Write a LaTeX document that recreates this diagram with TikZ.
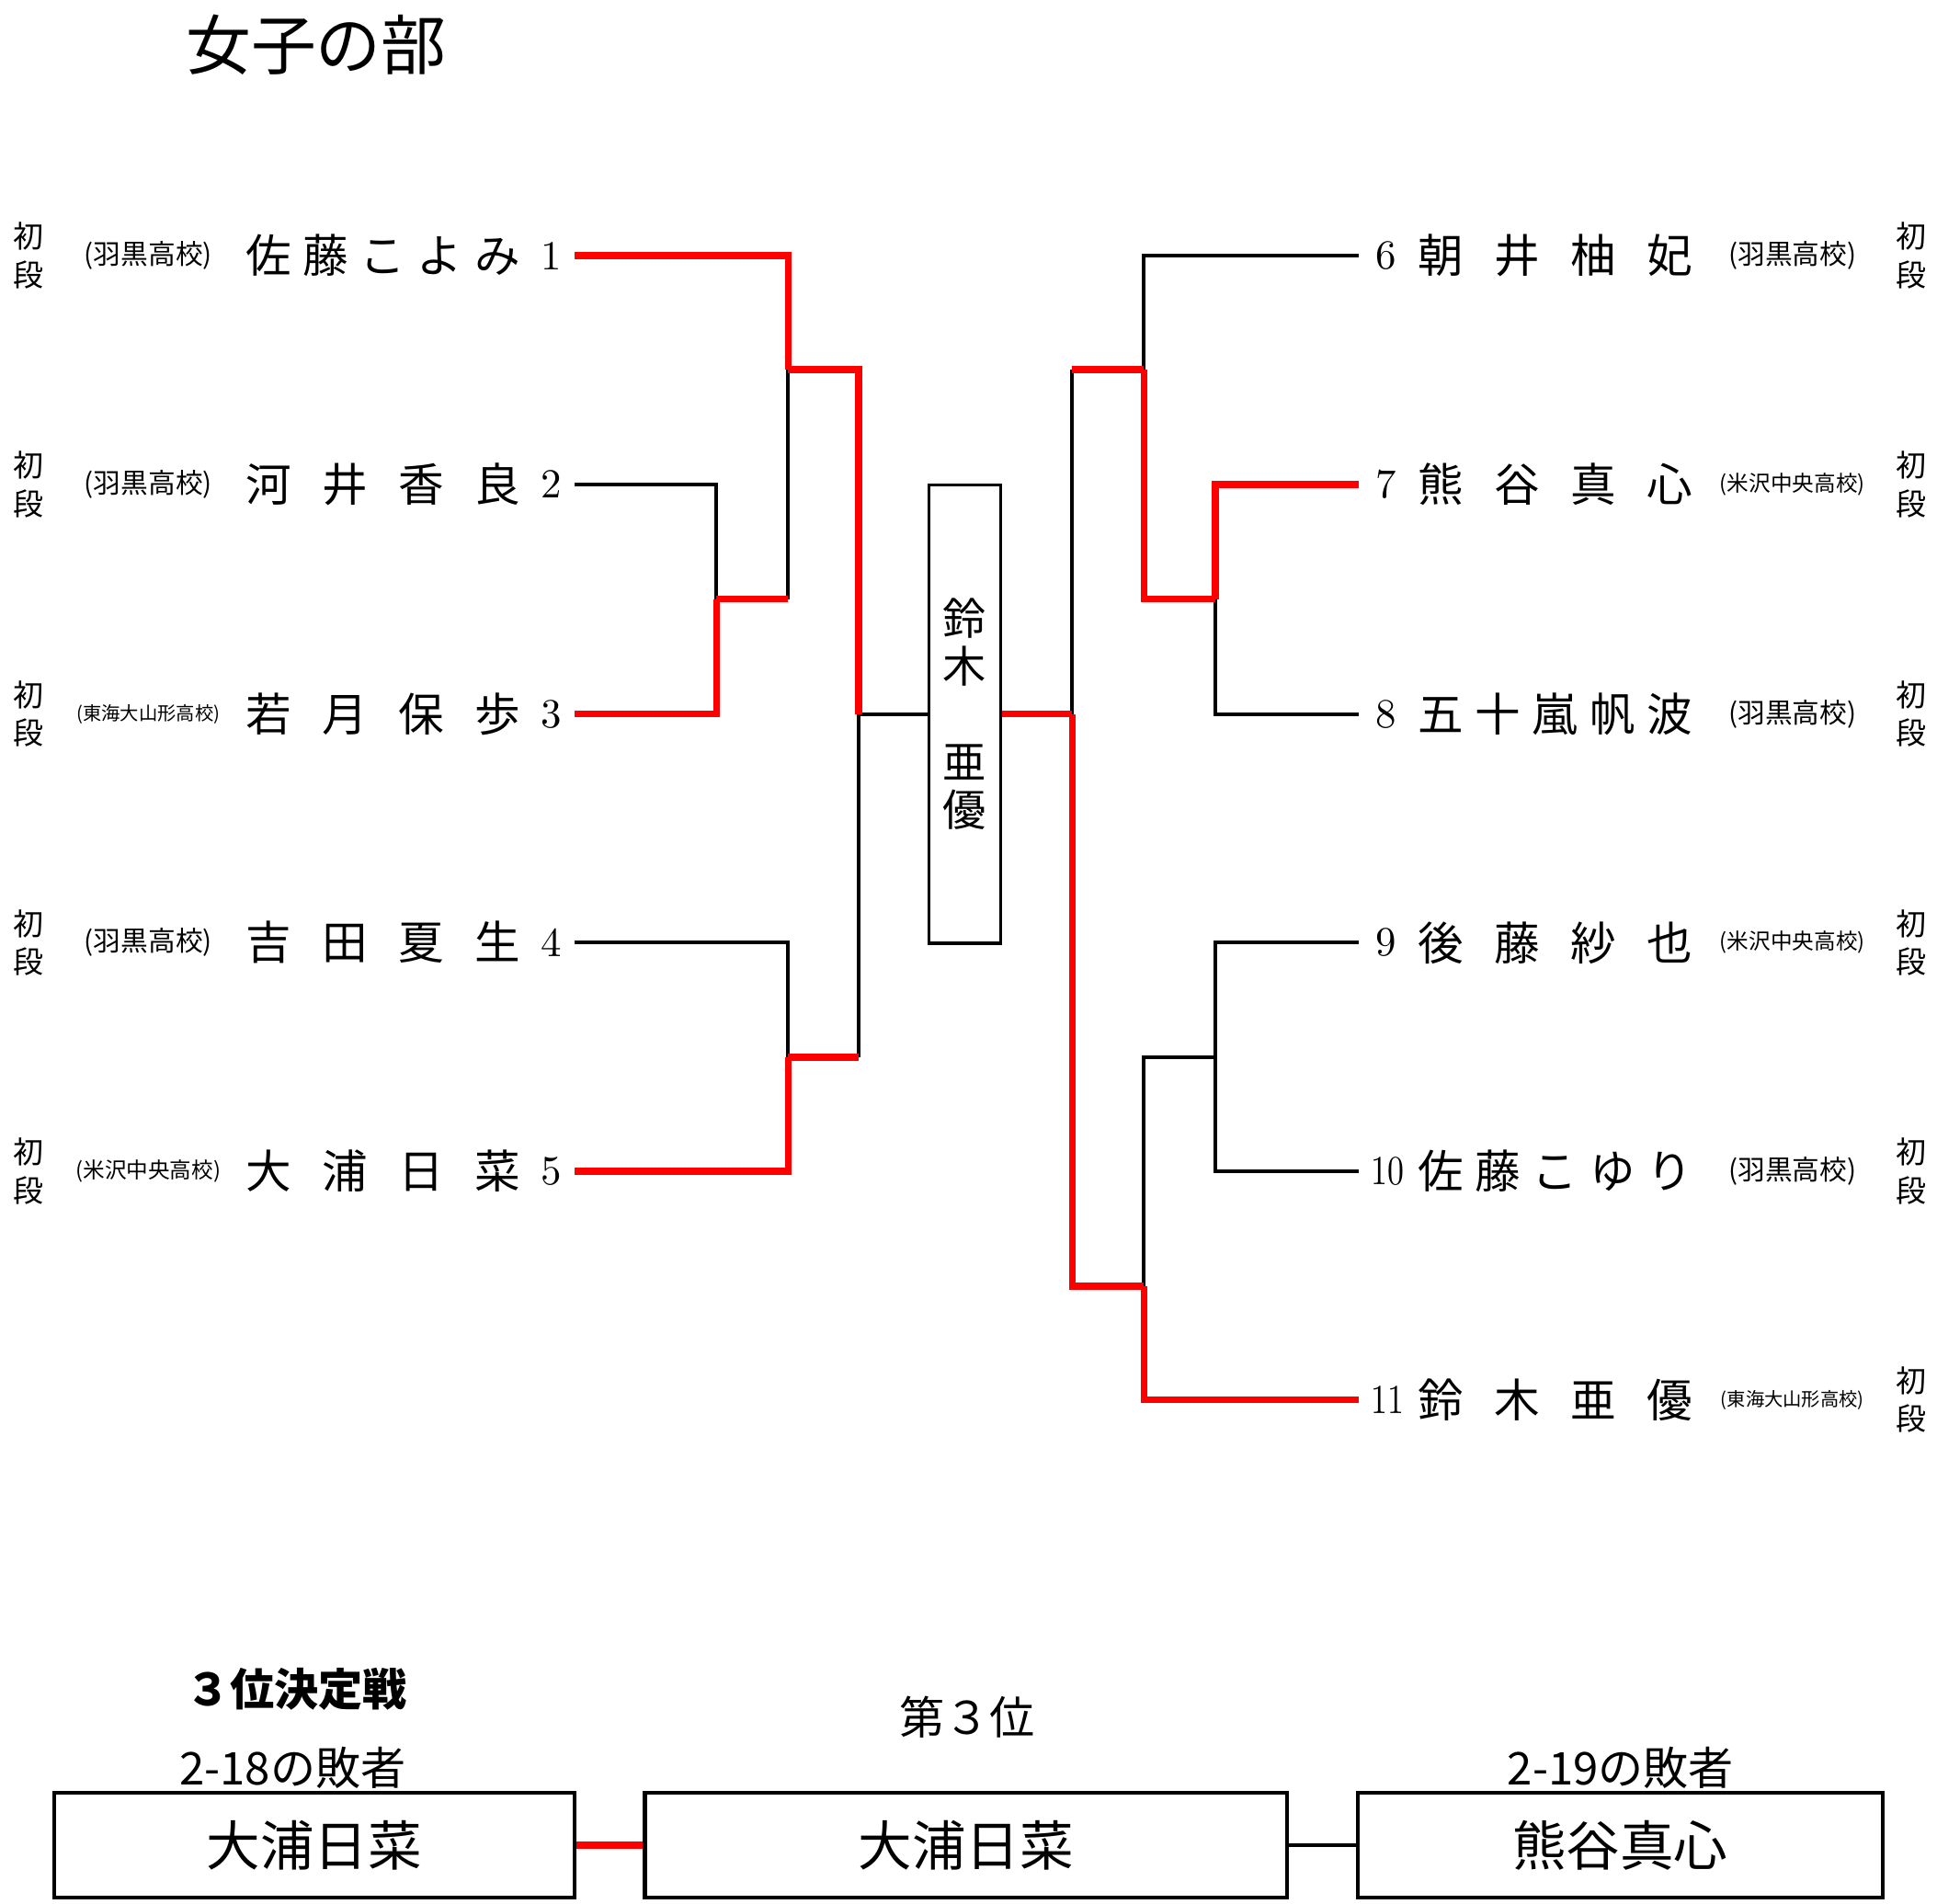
\documentclass[tikz,border=0pt]{standalone}
\usepackage{fontspec}
\newfontfamily\jp{Noto Sans CJK JP}
\usetikzlibrary{positioning}
\newcommand{\spreadname}[1]{\makebox[22.2mm][s]{#1}}

\begin{document}
\begin{tikzpicture}[x=0.1mm,y=-0.1mm,
      win/.style={draw=red,line width=1.6pt},
      lose/.style={draw=black,line width=0.8pt},
      pname/.style={inner sep=0pt,font=\jp\fontsize{10.5}{12}\selectfont},
      school/.style={inner sep=0pt,font=\jp\fontsize{6.3}{7}\selectfont},
      smallschool/.style={inner sep=0pt,font=\jp\fontsize{5}{6}\selectfont},
      tinyschool/.style={inner sep=0pt,font=\jp\fontsize{4.3}{5}\selectfont},
      dan/.style={inner sep=0pt,align=center,font=\jp\fontsize{7}{8.8}\selectfont},
      num/.style={inner sep=0pt,font=\fontsize{9.5}{11}\selectfont},
      label/.style={inner sep=0pt,font=\jp\fontsize{10.4}{12}\selectfont},
      resbox/.style={draw,line width=0.9pt,minimum height=8.5mm,inner sep=0pt,
        font=\jp\fontsize{12.4}{14}\selectfont}
      ]
      \useasboundingbox (0,0) rectangle (1568,1540.5);

      \node[inner sep=0pt,font=\jp\fontsize{15}{18}\selectfont] (title) at (256,36) {女子の部};

      % dan grades
      \foreach \y [count=\i] in {207,392,578,763,948}
        \node[dan] (dl\i) at (23,\y) {初\\段};
      \foreach \y [count=\i] in {207,392,578,763,948,1133}
        \node[dan] (dr\i) at (1547,\y) {初\\段};

      % left side
      \node[school] (sc1) at (120,207) {(羽黒高校)};
      \node[school] (sc2) at (120,392) {(羽黒高校)};
      \node[tinyschool] (sc3) at (120,578) {(東海大山形高校)};
      \node[school] (sc4) at (120,763) {(羽黒高校)};
      \node[smallschool] (sc5) at (120,948) {(米沢中央高校)};

      \node[pname] (nm1) at (310,207) {\spreadname{佐\hfill 藤\hfill こ\hfill よ\hfill み}};
      \node[pname] (nm2) at (310,392) {\spreadname{河\hfill 井\hfill 香\hfill 良}};
      \node[pname] (nm3) at (310,578) {\spreadname{若\hfill 月\hfill 保\hfill 歩}};
      \node[pname] (nm4) at (310,763) {\spreadname{吉\hfill 田\hfill 夏\hfill 生}};
      \node[pname] (nm5) at (310,948) {\spreadname{大\hfill 浦\hfill 日\hfill 菜}};

      \node[num] (n1) at (446,207) {1};
      \node[num] (n2) at (446,392) {2};
      \node[num] (n3) at (446,578) {3};
      \node[num] (n4) at (446,763) {4};
      \node[num] (n5) at (446,948) {5};

      % right side
      \node[num] (n6) at (1122,207) {6};
      \node[num] (n7) at (1122,392) {7};
      \node[num] (n8) at (1122,578) {8};
      \node[num] (n9) at (1122,763) {9};
      \node[num] (n10) at (1123,948) {\scalebox{0.8}[1]{10}};
      \node[num] (n11) at (1123,1133) {\scalebox{0.8}[1]{11}};

      \node[pname] (nm6) at (1259,207) {\spreadname{朝\hfill 井\hfill 柚\hfill 妃}};
      \node[pname] (nm7) at (1259,392) {\spreadname{熊\hfill 谷\hfill 真\hfill 心}};
      \node[pname] (nm8) at (1259,578) {\spreadname{五\hfill 十\hfill 嵐\hfill 帆\hfill 波}};
      \node[pname] (nm9) at (1259,763) {\spreadname{後\hfill 藤\hfill 紗\hfill 也}};
      \node[pname] (nm10) at (1259,948) {\spreadname{佐\hfill 藤\hfill こ\hfill ゆ\hfill り}};
      \node[pname] (nm11) at (1259,1133) {\spreadname{鈴\hfill 木\hfill 亜\hfill 優}};

      \node[school] (sc6) at (1451,207) {(羽黒高校)};
      \node[smallschool] (sc7) at (1451,392) {(米沢中央高校)};
      \node[school] (sc8) at (1451,578) {(羽黒高校)};
      \node[smallschool] (sc9) at (1451,763) {(米沢中央高校)};
      \node[school] (sc10) at (1451,948) {(羽黒高校)};
      \node[tinyschool] (sc11) at (1451,1133) {(東海大山形高校)};

      % champion
      \node[lose,minimum width=5.8mm,minimum height=37.1mm,inner sep=0pt,align=center,
        font=\jp\fontsize{10}{11}\selectfont] (champ) at (781,578) {鈴\\木\\\mbox{}\\亜\\優};

      % bracket ends and joints
      \coordinate (p1) at (465,207);
      \coordinate (p2) at (465,392);
      \coordinate (p3) at (465,578);
      \coordinate (p4) at (465,763);
      \coordinate (p5) at (465,948);
      \coordinate (j23) at (580,485);
      \coordinate (j123) at (638,299);
      \coordinate (j45) at (638,856);
      \coordinate (jL) at (695,578);

      \coordinate (q6) at (1100,207);
      \coordinate (q7) at (1100,392);
      \coordinate (q8) at (1100,578);
      \coordinate (q9) at (1100,763);
      \coordinate (q10) at (1100,948);
      \coordinate (q11) at (1100,1133);
      \coordinate (k78) at (984,485);
      \coordinate (k678) at (926,299);
      \coordinate (k910) at (984,856);
      \coordinate (k911) at (926,1041);
      \coordinate (jR) at (868,578);

      \draw[lose] (p2) -| (j23);
      \draw[lose] (j23 -| j123) -- (j123);
      \draw[lose] (p4) -| (j45);
      \draw[lose] (j45 -| jL) -- (jL);
      \draw[lose] (jL) -- (champ.west);

      \draw[lose] (q6) -| (k678);
      \draw[lose] (q8) -| (k78);
      \draw[lose] (k678 -| jR) -- (jR);
      \draw[lose] (q9) -| (k910);
      \draw[lose] (q10) -| (k910);
      \draw[lose] (k910) -| (k911);

      \draw[win] (p1) -| (j123);
      \draw[win] (p3) -| (j23);
      \draw[win] (j23) -- (j23 -| j123);
      \draw[win] (p5) -| (j45);
      \draw[win] (j45) -- (j45 -| jL);
      \draw[win] (j123) -| (jL);

      \draw[win] (q7) -| (k78);
      \draw[win] (k78) -| (k678);
      \draw[win] (k678) -- (k678 -| jR);
      \draw[win] (q11) -| (k911);
      \draw[win] (k911) -| (jR);
      \draw[win] (jR) -- (champ.east);

      % third place
      \node[label,font=\jp\bfseries\fontsize{10.2}{12}\selectfont] (third) at (240,1367) {３位決定戦};
      \node[label] (place) at (783,1390) {第３位};
      \node[label] (lose18) at (237,1431) {2-18の敗者};
      \node[label] (lose19) at (1312,1431) {2-19の敗者};

      \node[resbox,minimum width=42.1mm] (b1) at (254.5,1493.5) {大浦日菜};
      \node[resbox,minimum width=52mm] (b2) at (782,1493.5) {大浦日菜};
      \node[resbox,minimum width=42.5mm] (b3) at (1311.5,1493.5) {熊谷真心};

      \draw[win] (b1) -- (b2);
      \draw[lose] (b2) -- (b3);
    \end{tikzpicture}
\end{document}
